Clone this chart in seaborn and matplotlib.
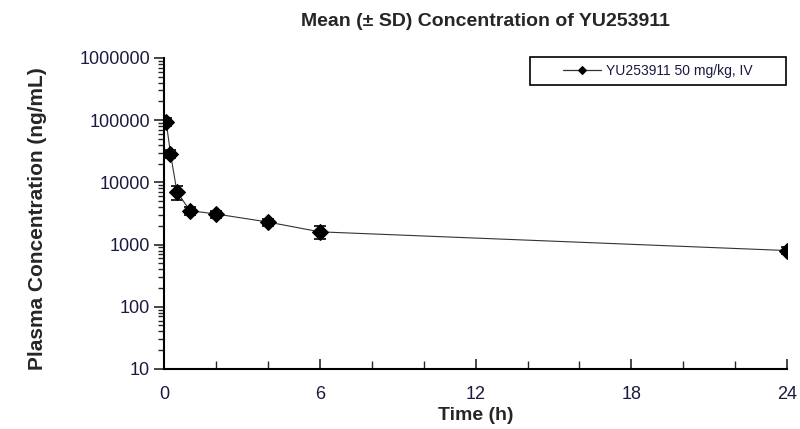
import matplotlib
matplotlib.use('Agg')
import matplotlib.pyplot as plt
import matplotlib.ticker as mticker
from matplotlib.patches import Rectangle
import seaborn as sns
import pandas as pd

# mean (+/- SD) plasma concentrations
time_h = [0.083, 0.25, 0.5, 1, 2, 4, 6, 24]
conc_mean = [95000, 29000, 7000, 3500, 3100, 2300, 1600, 800]
conc_sd = [15000, 4000, 1800, 500, 400, 300, 350, 100]
series_label = 'YU253911 50 mg/kg, IV'

y_ticks = [10, 100, 1000, 10000, 100000, 1000000]
x_ticks = [0, 6, 12, 18, 24]

sns.set_style('white')
plt.rcParams['font.family'] = ['Liberation Sans', 'DejaVu Sans']

df = pd.DataFrame({'Time': time_h, 'Conc': conc_mean, 'SD': conc_sd})

fig = plt.figure(figsize=(8, 4.29), dpi=100)
ax = fig.add_axes([0.205, 0.14, 0.779, 0.725])

ax.errorbar(df['Time'], df['Conc'], yerr=df['SD'], fmt='none',
            ecolor='black', elinewidth=1.2, capsize=4, capthick=1.2, zorder=3)
sns.lineplot(data=df, x='Time', y='Conc', ax=ax, color='#333333', linewidth=0.8,
             marker='D', markersize=8, markerfacecolor='black',
             markeredgecolor='black', label=series_label, zorder=4)

ax.set_yscale('log')
ax.set_ylim(10, 1000000)
ax.set_xlim(0, 24)
ax.set_yticks(y_ticks)
ax.yaxis.set_major_formatter(mticker.FuncFormatter(lambda v, p: f'{int(round(v))}'))
ax.yaxis.set_minor_locator(mticker.LogLocator(base=10, subs=range(2, 10), numticks=20))
ax.yaxis.set_minor_formatter(mticker.NullFormatter())
ax.set_xticks(x_ticks)
ax.xaxis.set_minor_locator(mticker.MultipleLocator(2))

for s in ['top', 'right']:
    ax.spines[s].set_visible(False)
for s in ['left', 'bottom']:
    ax.spines[s].set_color('black')
    ax.spines[s].set_linewidth(1.5)

ax.tick_params(axis='y', which='major', direction='out', length=7, width=1.2,
               labelsize=13, left=True, pad=3, labelcolor='#1a1a40')
ax.tick_params(axis='y', which='minor', direction='out', length=4, width=1, left=True)
ax.tick_params(axis='x', which='major', direction='in', length=7, width=1.2,
               labelsize=13, bottom=True, pad=12, labelcolor='#1a1a40')
ax.tick_params(axis='x', which='minor', direction='in', length=6, width=1, bottom=True)

ax.set_xlabel('Time (h)', fontsize=14, fontweight='bold', labelpad=3)
ax.set_ylabel('Plasma Concentration (ng/mL)', fontsize=15, fontweight='bold')
ax.yaxis.set_label_coords(-0.188, 0.482)
ax.set_title('Mean (± SD) Concentration of YU253911', fontsize=14, fontweight='bold',
             x=0.515, pad=23)

# Excel-style legend: wide box with the entry roughly centred in it
ax.add_patch(Rectangle((0.5875, 0.913), 0.41, 0.09, transform=ax.transAxes,
                       fill=False, edgecolor='black', linewidth=1.2,
                       clip_on=False, zorder=5))
leg = ax.legend(loc='center', bbox_to_anchor=(0.792, 0.958), fontsize=10,
                frameon=False, handlelength=2.75, handletextpad=0.35,
                markerscale=0.5, borderpad=0, borderaxespad=0)
for t in leg.get_texts():
    t.set_color('#1a1a40')
for h in leg.legend_handles:
    h.set_linewidth(0.9)

fig.savefig('out.png', dpi=100)
